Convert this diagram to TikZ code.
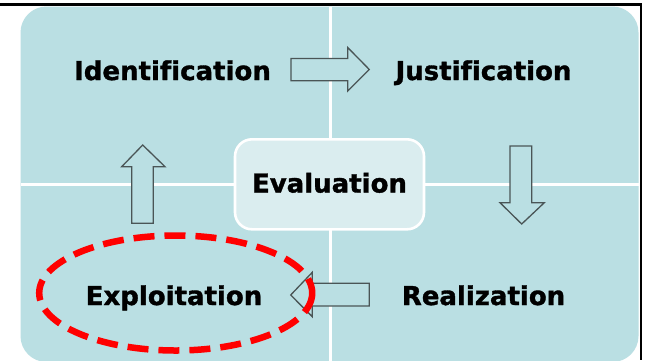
\documentclass[tikz,border=0pt]{standalone}
\usepackage{fontspec}
\setmainfont{DejaVu Sans}[Ligatures=NoCommon, BoldFeatures={FakeBold=1.3}]
\definecolor{panel}{HTML}{BADFE3}
\definecolor{centerfill}{HTML}{DAEDEF}
\definecolor{arrowline}{HTML}{4A5556}
\definecolor{ringred}{HTML}{FF0000}
\tikzset{
  phase/.style={font=\fontsize{26}{30}\selectfont\bfseries, text=black, inner sep=0pt, anchor=base},
  blockarrow/.style={draw=arrowline, fill=panel, line width=1.3pt, line join=miter},
  divider/.style={draw=white, line width=3pt},
}
\begin{document}
\begin{tikzpicture}[x=1pt,y=-1pt]
\useasboundingbox (0,0) rectangle (647,360);
\fill[white] (0,0) rectangle (647,360);
% outer frame lines
\draw[black, line width=2.4pt] (0,4.5) -- (641,4.5) -- (641,360);
% quadrant panel
\fill[panel, rounded corners=26pt] (20.5,6.5) rectangle (638.5,362);
\draw[divider] (330,6.5) -- (330,362);
\draw[divider] (20.5,184) -- (638.5,184);
% central box
\node[draw=white, line width=2.6pt, fill=centerfill, rounded corners=17pt,
      minimum width=189pt, minimum height=90pt, inner sep=0pt] (evalbox) at (329.5,184.3) {};
\node[phase] (evaluation) at (329.5,192.5) {Evaluation};
% phase labels
\node[phase] (identification) at (172.5,80) {Identification};
\node[phase] (justification) at (483.5,80) {Justification};
\node[phase] (realization) at (483.5,305) {Realization};
\node[phase] (exploitation) at (174,305) {Exploitation};
% block arrows between the phases
\draw[blockarrow] (291,58.5) -- (347.7,58.5) -- (347.7,47.5) -- (369.3,69.5)
  -- (347.7,91) -- (347.7,80.7) -- (291,80.7) -- cycle;
\draw[blockarrow] (510,146) -- (531.7,146) -- (531.7,202.7) -- (544.3,202.7)
  -- (521.7,224) -- (500,202.7) -- (510,202.7) -- cycle;
\draw[blockarrow] (369.3,283.3) -- (369.3,306) -- (312.3,306) -- (312.3,316.7)
  -- (290.7,295) -- (312.3,272.3) -- (312.3,283.3) -- cycle;
\draw[blockarrow] (131.7,223.3) -- (153.3,223.3) -- (153.3,166.7) -- (165,166.7)
  -- (142.7,145) -- (121.7,166.7) -- (131.7,166.7) -- cycle;
% highlight ring round the current phase
\coordinate (ringcenter) at (175.7,293);
\draw[ringred, line width=6.5pt, dash pattern=on 21pt off 10pt, dash phase=6pt]
  (ringcenter) ellipse [x radius=136.5pt, y radius=57.5pt];
\end{tikzpicture}
\end{document}
